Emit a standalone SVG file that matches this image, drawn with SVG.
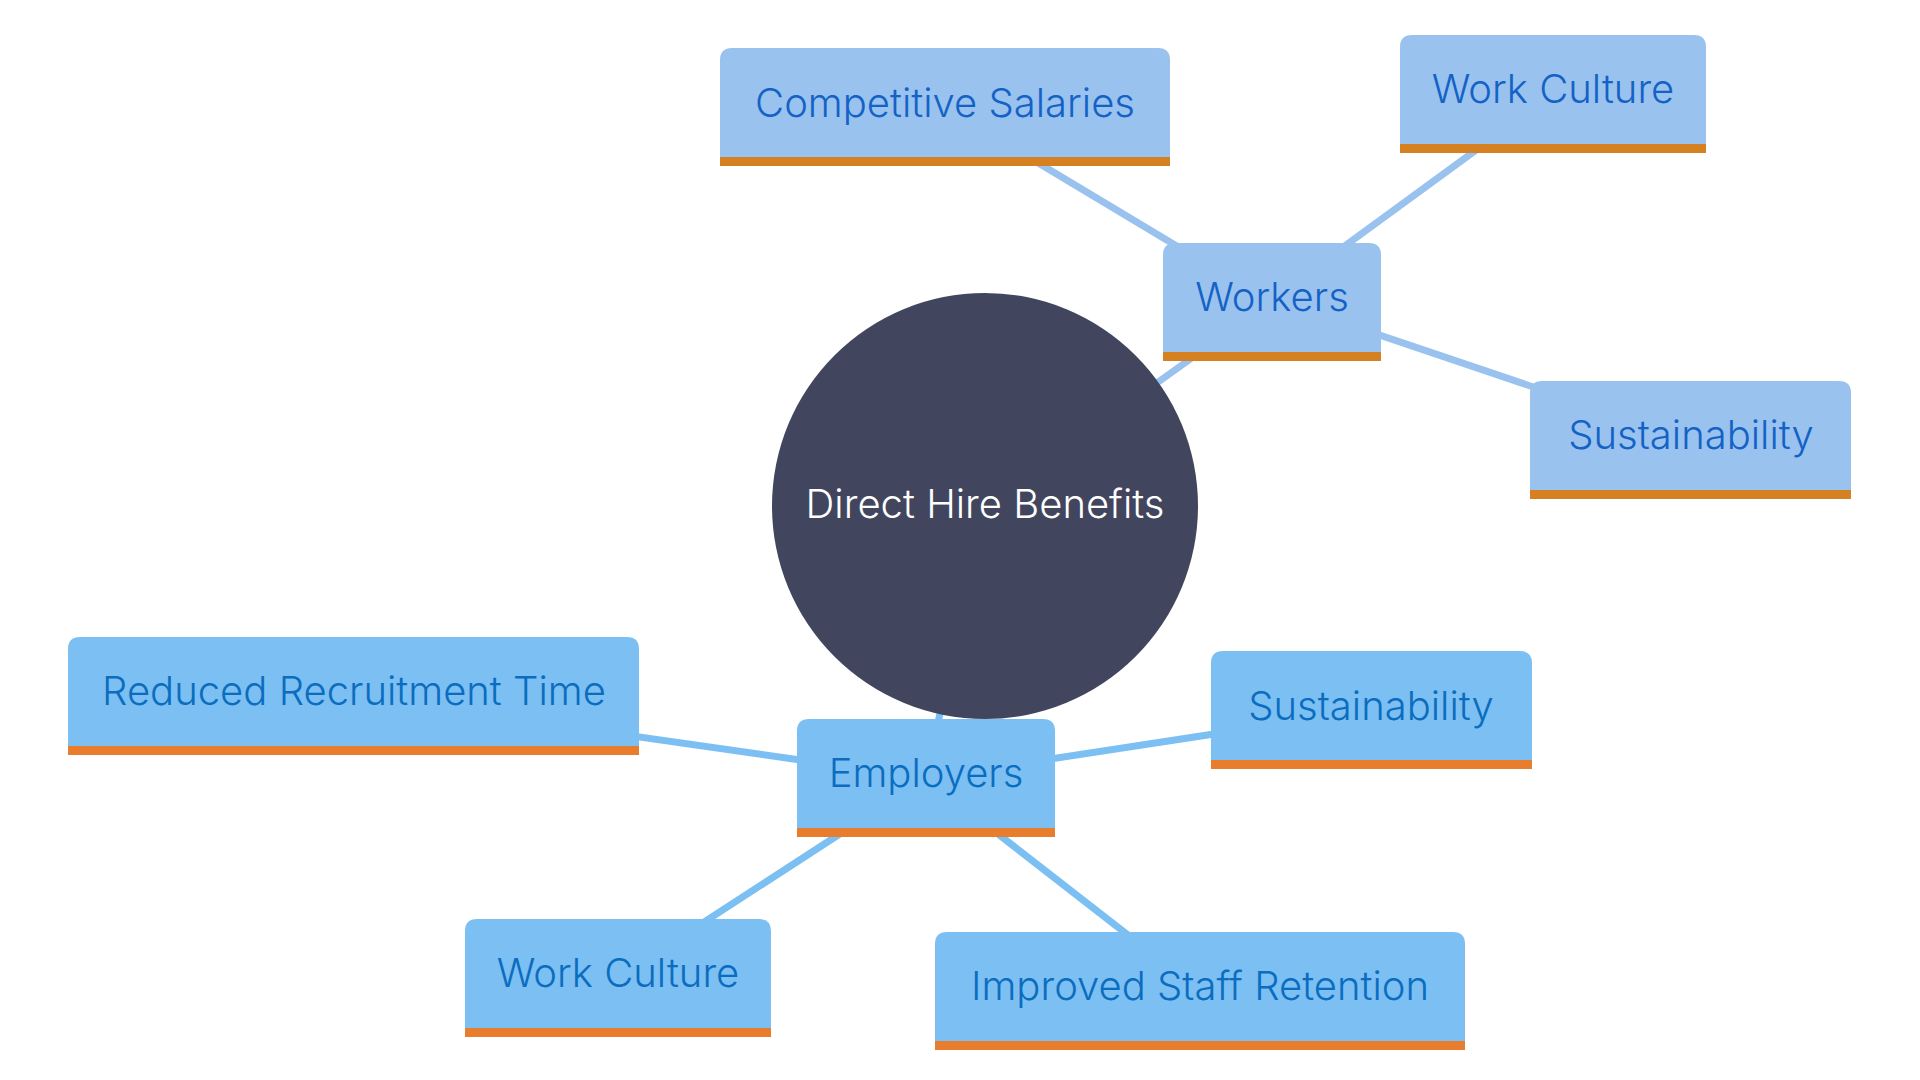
<svg xmlns="http://www.w3.org/2000/svg" width="1920" height="1080" viewBox="0 0 1920 1080">
<style>
.edge{fill:none;stroke-width:7;stroke-linecap:butt}
.e1{stroke:#9ac2ee}
.e2{stroke:#7cbff2}
.box1{fill:#9ac2ee}
.box2{fill:#7cbff2}
.band1{fill:#d68121}
.band2{fill:#e87d2d}
.lbl{font-family:Inter,"Noto Sans","Liberation Sans",sans-serif;font-size:40px;font-weight:300;text-anchor:middle}
.t1{fill:#1462c6}
.t2{fill:#0b6dbf}
.troot{fill:#ffffff}
</style>
<rect width="1920" height="1080" fill="#ffffff"/>
<g id="connectors">
<line class="edge e1" x1="985" y1="506" x2="1270" y2="302"/>
<line class="edge e1" x1="1270" y1="302" x2="945" y2="107"/>
<line class="edge e1" x1="1268" y1="302" x2="1553" y2="94"/>
<line class="edge e1" x1="1270" y1="298" x2="1690" y2="440"/>
<line class="edge e2" x1="985" y1="506" x2="926" y2="778"/>
<line class="edge e2" x1="926" y1="778" x2="353" y2="696"/>
<line class="edge e2" x1="926" y1="778" x2="1371" y2="710"/>
<line class="edge e2" x1="926" y1="778" x2="618" y2="978"/>
<line class="edge e2" x1="926" y1="778" x2="1200" y2="991"/>
</g>
<g id="root">
<circle cx="985" cy="506" r="213" fill="#41465e"/>
<text class="lbl troot" x="985" y="518">Direct Hire Benefits</text>
</g>
<g id="workers">
<path class="box1" d="M1163,361 V255 Q1163,243 1175,243 H1369 Q1381,243 1381,255 V361 Z"/>
<rect class="band1" x="1163" y="352" width="218" height="9"/>
<text class="lbl t1" x="1272" y="311">Workers</text>
</g>
<g id="competitive-salaries">
<path class="box1" d="M720,166 V60 Q720,48 732,48 H1158 Q1170,48 1170,60 V166 Z"/>
<rect class="band1" x="720" y="157" width="450" height="9"/>
<text class="lbl t1" x="945" y="117">Competitive Salaries</text>
</g>
<g id="work-culture-workers">
<path class="box1" d="M1400,153 V47 Q1400,35 1412,35 H1694 Q1706,35 1706,47 V153 Z"/>
<rect class="band1" x="1400" y="144" width="306" height="9"/>
<text class="lbl t1" x="1553" y="103">Work Culture</text>
</g>
<g id="sustainability-workers">
<path class="box1" d="M1530,499 V393 Q1530,381 1542,381 H1839 Q1851,381 1851,393 V499 Z"/>
<rect class="band1" x="1530" y="490" width="321" height="9"/>
<text class="lbl t1" x="1691" y="449">Sustainability</text>
</g>
<g id="employers">
<path class="box2" d="M797,837 V731 Q797,719 809,719 H1043 Q1055,719 1055,731 V837 Z"/>
<rect class="band2" x="797" y="828" width="258" height="9"/>
<text class="lbl t2" x="926" y="787">Employers</text>
</g>
<g id="reduced-recruitment-time">
<path class="box2" d="M68,755 V649 Q68,637 80,637 H627 Q639,637 639,649 V755 Z"/>
<rect class="band2" x="68" y="746" width="571" height="9"/>
<text class="lbl t2" x="354" y="705">Reduced Recruitment Time</text>
</g>
<g id="sustainability-employers">
<path class="box2" d="M1211,769 V663 Q1211,651 1223,651 H1520 Q1532,651 1532,663 V769 Z"/>
<rect class="band2" x="1211" y="760" width="321" height="9"/>
<text class="lbl t2" x="1371" y="720">Sustainability</text>
</g>
<g id="work-culture-employers">
<path class="box2" d="M465,1037 V931 Q465,919 477,919 H759 Q771,919 771,931 V1037 Z"/>
<rect class="band2" x="465" y="1028" width="306" height="9"/>
<text class="lbl t2" x="618" y="987">Work Culture</text>
</g>
<g id="improved-staff-retention">
<path class="box2" d="M935,1050 V944 Q935,932 947,932 H1453 Q1465,932 1465,944 V1050 Z"/>
<rect class="band2" x="935" y="1041" width="530" height="9"/>
<text class="lbl t2" x="1200" y="1000">Improved Staff Retention</text>
</g>
</svg>
